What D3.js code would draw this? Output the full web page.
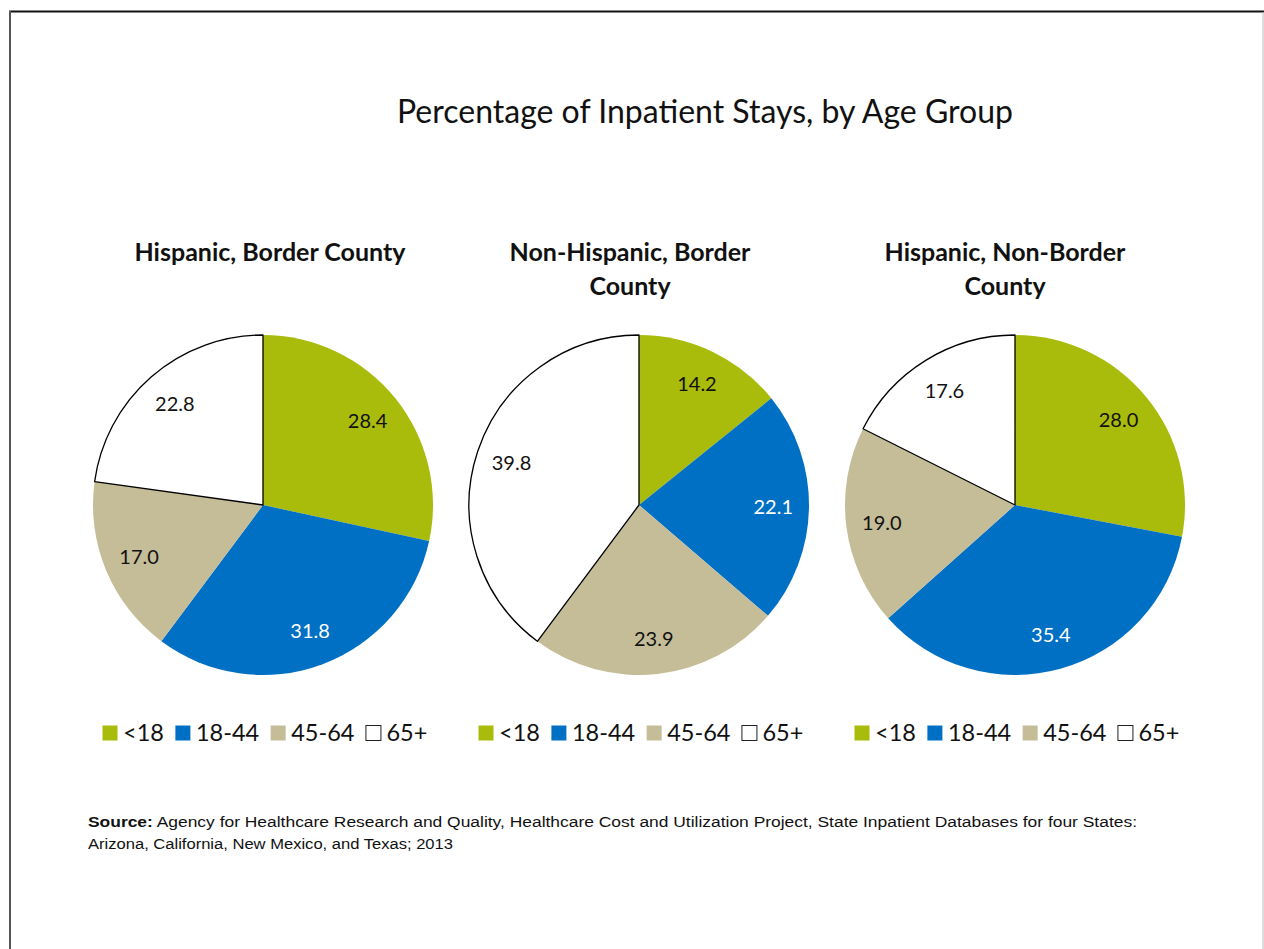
<!DOCTYPE html>
<html>
<head>
<meta charset="utf-8">
<script src="https://cdn.jsdelivr.net/npm/d3@7"></script>
<style>
  html, body { margin: 0; padding: 0; background: #fff; }
  svg { display: block; }
  .lato { font-family: Lato, "Open Sans", sans-serif; }
  .note { font-family: "Liberation Sans", Arial, sans-serif; }
</style>
</head>
<body>
<svg id="chart" width="1264" height="949"></svg>
<script>
// Age groups and their fill colours
const ageGroups = ["<18", "18-44", "45-64", "65+"];
const groupColors = ["#A9BB0B", "#0070C5", "#C4BD98", "#FFFFFF"];

// Panel titles (one array entry per text line)
const panelTitles = [
  ["Hispanic, Border County"],
  ["Non-Hispanic, Border", "County"],
  ["Hispanic, Non-Border", "County"]
];

// Percentage of inpatient stays per age group, one array per panel
const hispanicBorder = [28.4, 31.8, 17.0, 22.8];
const nonHispanicBorder = [14.2, 22.1, 23.9, 39.8];
const hispanicNonBorder = [28.0, 35.4, 19.0, 17.6];
const panelValues = [hispanicBorder, nonHispanicBorder, hispanicNonBorder];

const chartTitle = "Percentage of Inpatient Stays, by Age Group";
const sourceLabel = "Source:";
const sourceLines = [
  " Agency for Healthcare Research and Quality, Healthcare Cost and Utilization Project, State Inpatient Databases for four States:",
  "Arizona, California, New Mexico, and Texas; 2013"
];

const svg = d3.select("#chart");

// Page frame
svg.append("line").attr("x1", 9).attr("x2", 1264).attr("y1", 11.5).attr("y2", 11.5)
  .attr("stroke", "#111").attr("stroke-width", 2);
svg.append("line").attr("x1", 10).attr("x2", 10).attr("y1", 11).attr("y2", 949)
  .attr("stroke", "#555").attr("stroke-width", 2);
svg.append("line").attr("x1", 1263).attr("x2", 1263).attr("y1", 12).attr("y2", 949)
  .attr("stroke", "#bbb").attr("stroke-width", 1);

// Main title
svg.append("text")
  .attr("class", "lato")
  .attr("x", 705).attr("y", 123)
  .attr("text-anchor", "middle")
  .attr("font-size", 32)
  .attr("fill", "#111")
  .text(chartTitle);

const pieCenters = [263, 639, 1015];
const titleCenters = [270, 630, 1005];
const legendStarts = [102, 478, 854];
const cy = 505;
const radius = 170;

const color = d3.scaleOrdinal().domain(ageGroups).range(groupColors);
const pie = d3.pie().sort(null).value(d => d.value);
const arc = d3.arc().innerRadius(0).outerRadius(radius);
const labelArc = d3.arc().innerRadius(radius * 0.79).outerRadius(radius * 0.79);

panelValues.forEach((vals, i) => {
  const data = ageGroups.map((g, j) => ({ group: g, value: vals[j] }));
  const arcs = pie(data);

  // Panel title
  const t = svg.append("text")
    .attr("class", "lato")
    .attr("text-anchor", "middle")
    .attr("font-size", 25)
    .attr("font-weight", "bold")
    .attr("fill", "#111");
  panelTitles[i].forEach((line, k) => {
    t.append("tspan").attr("x", titleCenters[i]).attr("y", 261 + k * 34).text(line);
  });

  const g = svg.append("g").attr("transform", `translate(${pieCenters[i]},${cy})`);

  g.selectAll("path.slice")
    .data(arcs)
    .join("path")
    .attr("class", "slice")
    .attr("d", arc)
    .attr("fill", d => color(d.data.group))
    .attr("stroke", d => d.data.group === "65+" ? "#000" : "none")
    .attr("stroke-width", 1.3)
    .attr("stroke-linejoin", "round");

  g.selectAll("text.val")
    .data(arcs)
    .join("text")
    .attr("class", "val lato")
    .attr("transform", d => `translate(${labelArc.centroid(d)})`)
    .attr("text-anchor", "middle")
    .attr("dy", "0.36em")
    .attr("font-size", 20)
    .attr("fill", d => d.data.group === "18-44" ? "#fff" : "#111")
    .text(d => d.data.value.toFixed(1));

  // Legend
  const lg = svg.append("g").attr("transform", `translate(${legendStarts[i]},733)`);
  let x = 0;
  ageGroups.forEach((grp) => {
    lg.append("rect")
      .attr("x", x + 0.5).attr("y", -7.5)
      .attr("width", 15).attr("height", 15)
      .attr("fill", color(grp))
      .attr("stroke", grp === "65+" ? "#222" : "none")
      .attr("stroke-width", 1);
    const txt = lg.append("text")
      .attr("class", "lato")
      .attr("x", x + 21).attr("y", 0)
      .attr("dy", "0.36em")
      .attr("font-size", 23.5)
      .attr("fill", "#111")
      .text(grp);
    x += 21 + txt.node().getComputedTextLength() + 11;
  });
});

// Source note
const s1 = svg.append("text").attr("class", "note")
  .attr("x", 88).attr("y", 827).attr("font-size", 14).attr("fill", "#111")
  .attr("textLength", 1049).attr("lengthAdjust", "spacingAndGlyphs");
s1.append("tspan").attr("font-weight", "bold").text(sourceLabel);
s1.append("tspan").text(sourceLines[0]);
svg.append("text").attr("class", "note")
  .attr("x", 88).attr("y", 849).attr("font-size", 14).attr("fill", "#111")
  .attr("textLength", 365).attr("lengthAdjust", "spacingAndGlyphs")
  .text(sourceLines[1]);
</script>
</body>
</html>
